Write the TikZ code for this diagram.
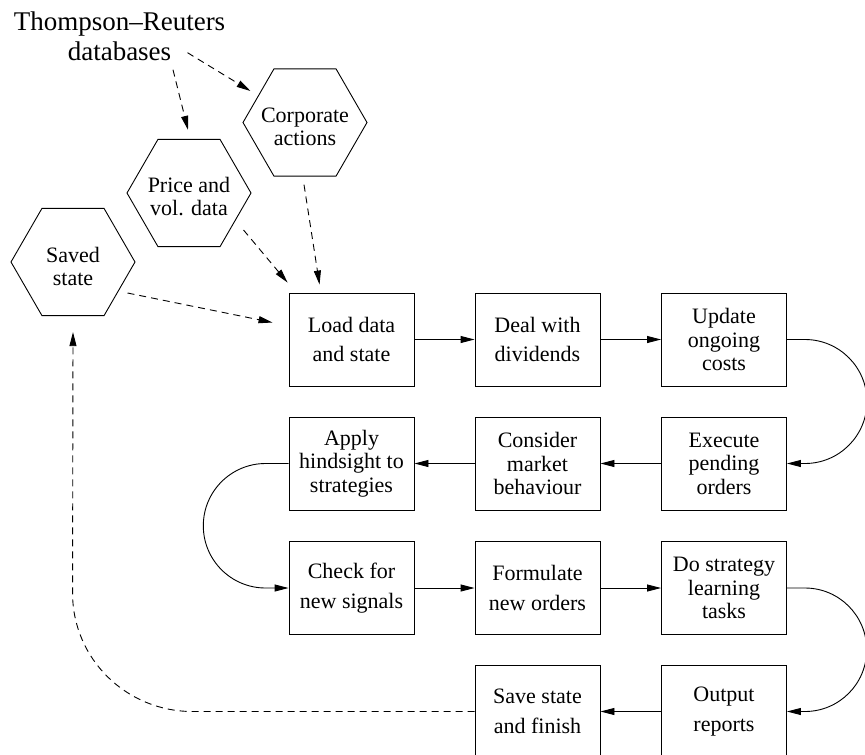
\documentclass[tikz,border=0pt]{standalone}
\usepackage{fontspec}
\setmainfont{Liberation Serif}
\usetikzlibrary{arrows.meta,shapes.geometric,calc}
\tikzset{
  proc/.style={draw,line width=0.9pt,minimum width=125pt,minimum height=93pt,inner sep=0pt,align=center,font=\fontsize{22}{23.5}\selectfont},
  hexa/.style={draw,line width=0.9pt,regular polygon,regular polygon sides=6,minimum size=124pt,inner sep=0pt},
  hexatext/.style={align=center,font=\fontsize{22}{23}\selectfont,inner sep=0pt,yshift=-4pt},
  flow/.style={line width=0.9pt,-{Triangle[length=14pt,width=7pt]}},
  dflow/.style={flow,dash pattern=on 7pt off 5pt}
}
\begin{document}
\begin{tikzpicture}[x=1pt,y=-1pt]
\useasboundingbox (0,0) rectangle (865,755);
% source text
\node[inner sep=0pt,align=center,font=\fontsize{27}{30}\selectfont] (TR) at (119.5,36) {Thompson--Reuters\\databases};
% hexagons
\node[hexa,label={[hexatext]center:Saved\\state}] (saved) at (73,262) {};
\node[hexa,label={[hexatext]center:Price and\\vol. data}] (price) at (189,193) {};
\node[hexa,label={[hexatext]center:Corporate\\actions}] (corp) at (305,122.5) {};
% process boxes
\node[proc] (load) at (351.5,339.5) {Load data\\[6pt]and state};
\node[proc] (deal) at (537.5,339.5) {Deal with\\[6pt]dividends};
\node[proc] (upd)  at (724,339.5) {Update\\ongoing\\costs};
\node[proc] (app)  at (351.5,463.5) {Apply\\hindsight to\\strategies};
\node[proc] (con)  at (537.5,463.5) {Consider\\market\\behaviour};
\node[proc] (exe)  at (724,463.5) {Execute\\pending\\orders};
\node[proc] (chk)  at (351.5,588) {Check for\\[6pt]new signals};
\node[proc] (form) at (537.5,588) {Formulate\\[6pt]new orders};
\node[proc] (dost) at (724,588) {Do strategy\\learning\\tasks};
\node[proc] (save) at (537.5,711.5) {Save state\\[6pt]and finish};
\node[proc] (outp) at (724,711.5) {Output\\[6pt]reports};
% solid flow
\draw[flow] (load.east) -- (deal.west);
\draw[flow] (deal.east) -- (upd.west);
\draw[flow] (upd.east) -- ++(18,0) arc[start angle=-90,end angle=90,radius=62] -- (exe.east);
\draw[flow] (exe.west) -- (con.east);
\draw[flow] (con.west) -- (app.east);
\draw[flow] (app.west) -- ++(-23,0) arc[start angle=-90,end angle=-270,radius=62.25] -- (chk.west);
\draw[flow] (chk.east) -- (form.west);
\draw[flow] (form.east) -- (dost.west);
\draw[flow] (dost.east) -- ++(18,0) arc[start angle=-90,end angle=90,radius=61.75] -- (outp.east);
\draw[flow] (outp.west) -- (save.east);
% dashed data flow
\draw[dflow] ($(TR.south)+(68,-8)$) -- ($(corp.west)+(8,-31.5)$);
\draw[dflow] ($(TR.south)+(53.5,9)$) -- ($(price.north)+(-1,-9)$);
\draw[dflow] ($(price.east)+(-8,37)$) -- ($(load.north west)+(-1,-10)$);
\draw[dflow] ($(corp.south)+(-1,8)$) -- ($(load.north west)+(31,-8)$);
\draw[dflow] ($(saved.east)+(-8,31)$) -- ($(load.west)+(-16,-17)$);
\draw[dflow] (save.west) -- ++(-282,0) .. controls +(-66,0) and +(0,66) .. ++(-120,-118.5) -- ($(saved.south)+(0,16)$);
\end{tikzpicture}
\end{document}
